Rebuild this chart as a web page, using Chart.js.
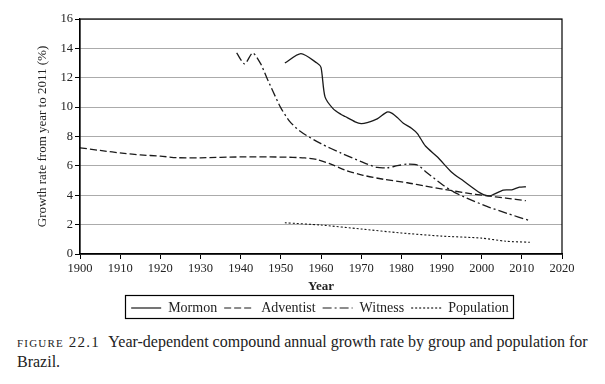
<!DOCTYPE html>
<html>
<head>
<meta charset="utf-8">
<script src="https://cdn.jsdelivr.net/npm/chart.js@4.4.1/dist/chart.umd.min.js"></script>
<style>
  body { margin: 0; background: #fff; font-family: "Liberation Serif", serif; }
  #wrap { width: 605px; height: 325px; }
  .caption { margin: 7px 0 0 17px; width: 585px; font-size: 16px; line-height: 20px; color: #222; }
  .caption .fig { font-variant: small-caps; letter-spacing: 1.2px; font-size: 15px; margin-right: 5px; }
</style>
</head>
<body>
<div id="wrap"><canvas id="growthChart" width="605" height="325"></canvas></div>
<div class="caption"><span class="fig">figure 22.1</span> Year-dependent compound annual growth rate by group and population for Brazil.</div>

<script>
// Series (year, growth %)
const mormonYears = [1951, 1955, 1959, 1960, 1961, 1963, 1965, 1966, 1968.5, 1970, 1971.5, 1974, 1976.4, 1977.6, 1979, 1980.5, 1982.6, 1984, 1986, 1989, 1992.6, 1995.5, 1999.6, 2001.3, 2002.5, 2005.4, 2007.5, 2009.4, 2011];
const mormonValues = [13.0, 13.64, 13.0, 12.7, 10.7, 9.9, 9.5, 9.36, 9.0, 8.88, 8.95, 9.2, 9.66, 9.59, 9.29, 8.9, 8.55, 8.2, 7.35, 6.6, 5.55, 4.97, 4.16, 3.97, 4.0, 4.35, 4.37, 4.55, 4.58];

const adventistYears = [1900, 1905, 1911, 1915, 1920, 1924, 1930, 1940, 1950, 1956, 1959, 1962, 1966, 1970.5, 1975.5, 1981.5, 1986, 1991, 1996, 2001, 2006, 2011];
const adventistValues = [7.23, 7.05, 6.85, 6.75, 6.66, 6.56, 6.55, 6.61, 6.6, 6.54, 6.43, 6.17, 5.71, 5.36, 5.09, 4.85, 4.62, 4.39, 4.16, 3.97, 3.81, 3.63];

const witnessYears = [1939, 1941, 1943, 1945, 1946.5, 1948, 1950, 1952.3, 1955, 1960, 1965, 1970, 1974, 1976.5, 1979, 1981.5, 1984, 1986.3, 1990.5, 1993, 1996.3, 2001.3, 2006.3, 2012];
const witnessValues = [13.69, 12.94, 13.69, 12.94, 12.0, 11.1, 9.95, 9.0, 8.32, 7.51, 6.87, 6.29, 5.89, 5.87, 6.01, 6.12, 6.06, 5.55, 4.67, 4.23, 3.81, 3.24, 2.77, 2.27];

const populationYears = [1951, 1960, 1970, 1980, 1990, 2000, 2006, 2012];
const populationValues = [2.13, 1.97, 1.7, 1.43, 1.22, 1.08, 0.87, 0.8];

const seriesNames = ['Mormon', 'Adventist', 'Witness', 'Population'];

const toPoints = (xs, ys) => xs.map((x, i) => ({ x: x, y: ys[i] }));

const SERIF = '"Liberation Serif", serif';
Chart.defaults.font.family = SERIF;
Chart.defaults.color = '#222';

// legend sits a bit right of the canvas centre in the original
const legendShift = {
  id: 'legendShift',
  afterLayout(chart) {
    const lg = chart.legend;
    const dx = 39;
    lg.left += dx;
    lg.right += dx;
    lg.legendHitBoxes.forEach(b => { b.left += dx; });
  }
};

// frame around the plot and around the legend
const framePlugin = {
  id: 'frames',
  afterDraw(chart) {
    const { ctx, chartArea, legend } = chart;
    ctx.save();
    ctx.strokeStyle = '#000';
    ctx.lineWidth = 1.2;
    ctx.setLineDash([]);
    ctx.strokeRect(chartArea.left, chartArea.top, chartArea.right - chartArea.left, chartArea.bottom - chartArea.top);
    if (legend && legend.legendHitBoxes.length) {
      const boxes = legend.legendHitBoxes;
      const l = Math.min(...boxes.map(b => b.left)) - 6;
      const r = Math.max(...boxes.map(b => b.left + b.width)) + 4;
      const t = Math.min(...boxes.map(b => b.top)) - 6;
      const btm = Math.max(...boxes.map(b => b.top + b.height)) + 3;
      ctx.strokeRect(Math.round(l) + 0.5, Math.round(t) + 0.5, Math.round(r - l), Math.round(btm - t));
    }
    ctx.restore();
  }
};

const lineStyle = {
  borderColor: '#1a1a1a',
  backgroundColor: 'rgba(0,0,0,0)',
  borderWidth: 1.3,
  pointRadius: 0,
  tension: 0.25,
  fill: false
};

new Chart(document.getElementById('growthChart').getContext('2d'), {
  type: 'line',
  data: {
    datasets: [
      { ...lineStyle, label: seriesNames[0], data: toPoints(mormonYears, mormonValues) },
      { ...lineStyle, label: seriesNames[1], data: toPoints(adventistYears, adventistValues), borderDash: [7, 3] },
      { ...lineStyle, label: seriesNames[2], data: toPoints(witnessYears, witnessValues), borderDash: [9, 3, 2, 3] },
      { ...lineStyle, label: seriesNames[3], data: toPoints(populationYears, populationValues), borderDash: [2, 2], borderWidth: 1.1 }
    ]
  },
  options: {
    responsive: false,
    animation: false,
    layout: { padding: { left: 0, right: 43, top: 19, bottom: 0 } },
    plugins: {
      tooltip: { enabled: false },
      legend: {
        position: 'bottom',
        labels: {
          color: '#222',
          font: { family: SERIF, size: 14 },
          usePointStyle: true,
          pointStyle: 'line',
          pointStyleWidth: 30,
          padding: 7,
          generateLabels(chart) {
            const items = Chart.defaults.plugins.legend.labels.generateLabels(chart);
            items.forEach(it => {
              const ds = chart.data.datasets[it.datasetIndex];
              it.lineDash = ds.borderDash || [];
              it.lineWidth = 1.2;
              it.strokeStyle = '#1a1a1a';
            });
            return items;
          }
        }
      }
    },
    scales: {
      x: {
        type: 'linear',
        min: 1900,
        max: 2020,
        afterFit: (scale) => { scale.height = 40; },
        border: { display: true, color: '#000', width: 1.2 },
        grid: { drawOnChartArea: false, drawTicks: true, tickLength: 5, tickColor: '#000' },
        ticks: {
          stepSize: 10,
          padding: 2,
          maxRotation: 0,
          font: { family: SERIF, size: 12.5 },
          callback: (v) => String(v)
        },
        title: {
          display: true,
          text: 'Year',
          padding: { top: 0, bottom: 0 },
          font: { family: SERIF, size: 13, weight: 'bold' }
        }
      },
      y: {
        min: 0,
        max: 16,
        afterFit: (scale) => { scale.width = 80; },
        border: { display: true, color: '#000', width: 1.2 },
        grid: { color: '#ababab', lineWidth: 1, drawTicks: true, tickLength: 5, tickColor: '#000' },
        ticks: {
          stepSize: 2,
          padding: 2,
          font: { family: SERIF, size: 12.5 }
        },
        title: {
          display: true,
          text: 'Growth rate from year to 2011 (%)',
          padding: { top: 35, bottom: 0 },
          font: { family: SERIF, size: 13 }
        }
      }
    }
  },
  plugins: [legendShift, framePlugin]
});
</script>
</body>
</html>
